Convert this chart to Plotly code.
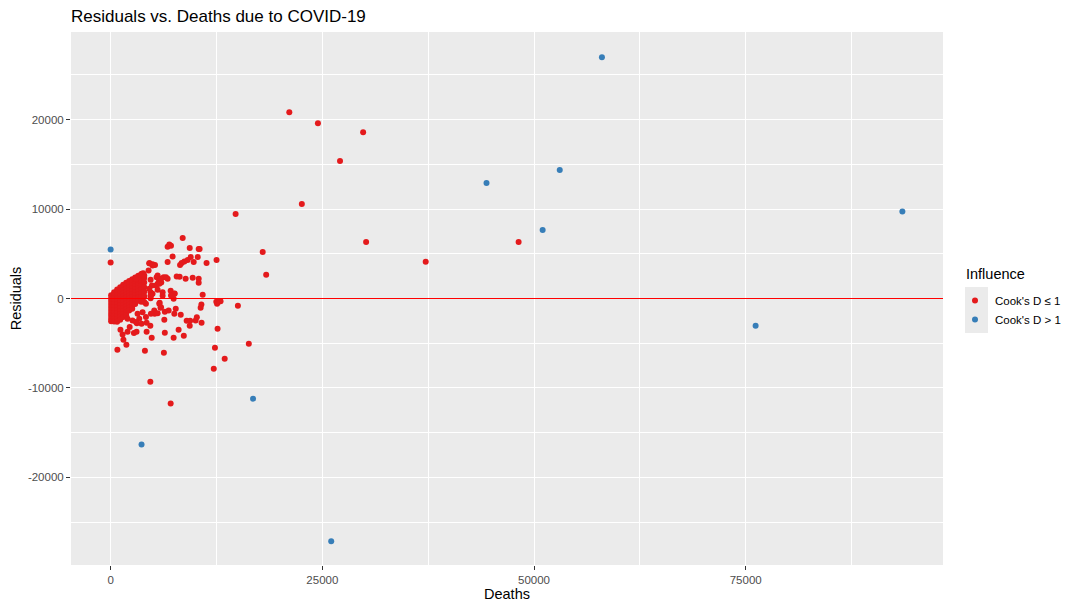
import plotly.graph_objects as go

# Cook's D > 1 (influential points): (deaths, residual)
high_pts = [
    (0, 5470), (58020, 26980), (53040, 14360), (44390, 12910), (51020, 7670),
    (93500, 9720), (76170, -3050), (16820, -11200), (3650, -16330), (26050, -27150),
]

# Cook's D <= 1, points far from the main cluster
far_pts = [
    (21100, 20840), (24480, 19610), (29820, 18600), (27090, 15370), (22580, 10570),
    (14760, 9450), (30170, 6330), (48180, 6330), (17960, 5210), (12510, 4320),
    (11330, 3980), (37210, 4100), (18370, 2650), (10510, 5550), (0, 4020),
    (15030, -815), (16320, -5060), (13470, -6730), (12180, -7850), (12320, -5500),
    (7090, -11750), (4690, -9300), (12630, -3380),
]

# Cook's D <= 1, scattered points round the cluster
spread_pts = [
    (8510, 6770), (6730, 5800), (7130, 5910), (6930, 6030), (9340, 5660),
    (10400, 5550), (7320, 4690), (9460, 4650), (10290, 4650), (9100, 4320),
    (8710, 4130), (8390, 3980), (8200, 3760), (9810, 4090), (6730, 4090),
    (4600, 3940), (4950, 3830), (5240, 3760), (4560, 3940), (4950, 3680),
    (4480, 3130), (3850, 2820), (3610, 2640), (3180, 2380), (2990, 2200),
    (5430, 2380), (6260, 2380), (6730, 2200), (4720, 2090), (5710, 2090),
    (5980, 1790), (5550, 1640), (5360, 1450), (8150, 2420), (8860, 2200),
    (9690, 2310), (10400, 2200), (10400, 1750), (7800, 2450), (6540, 2380),
    (3690, 2760), (3970, 2570), (5550, 2570), (5950, 2200), (5750, 1640),
    (5550, 970), (7090, 860), (7560, 560), (7440, -30), (7540, 520),
    (6140, 300), (4720, 700), (4720, 340), (4720, 30), (4880, 1450),
    (4560, 1080), (4950, 520), (4760, 340), (6140, 700), (7130, 340),
    (10870, 410), (12570, -590), (12680, -410), (12980, -300), (12480, -370),
    (10630, -1040), (10720, -670), (10740, -2720), (9340, -3050), (8980, -2490),
    (10040, -2460), (10180, -2090), (9390, -2490), (8640, -4170), (8030, -3500),
    (7440, -4390), (6400, -3830), (8280, -1820), (7690, -1150), (6400, -1490),
    (5890, -1040), (5790, -480), (5200, -1710), (4850, -4390), (4250, -3720),
    (4690, -3050), (4250, -2720), (4050, -5840), (6290, -6070), (800, -5730),
    (1860, -5170), (1510, -4610), (1410, -4020), (2750, -3870), (3060, -3720),
    (2000, -3720), (1160, -3500), (3100, -2760), (3650, -2830), (2000, -2270),
    (2250, -3200), (7520, -1710), (5750, -590), (5950, -970), (5150, -1340),
    (5550, -1640), (3770, -220), (4170, -590), (3770, -1530), (3180, -1710),
    (3380, -2270), (2580, -2460), (2990, -2640), (4170, -2080), (4760, -1710),
    (6340, -2380), (6850, -1340),
]

# Cook's D <= 1, dense cluster of small counts
core_pts = [
    (60, 370), (60, 40), (60, -290), (60, -620), (60, -950), (60, -1280),
    (60, -1610), (60, -1940), (60, -2270), (60, -2550),
    (410, 700), (410, 370), (410, 40), (410, -290), (410, -620), (410, -950),
    (410, -1280), (410, -1610), (410, -1940), (410, -2270), (410, -2580),
    (770, 1000), (770, 670), (770, 340), (770, 10), (770, -320), (770, -650),
    (770, -980), (770, -1310), (770, -1640), (770, -1970), (770, -2300), (770, -2600),
    (1130, 1250), (1130, 920), (1130, 590), (1130, 260), (1130, -70), (1130, -400),
    (1130, -730), (1130, -1060), (1130, -1390), (1130, -1720), (1130, -2050), (1130, -2380),
    (1480, 1550), (1480, 1220), (1480, 890), (1480, 560), (1480, 230), (1480, -100),
    (1480, -430), (1480, -760), (1480, -1090), (1480, -1420), (1480, -1750), (1480, -2080),
    (1840, 1750), (1840, 1420), (1840, 1090), (1840, 760), (1840, 430), (1840, 100),
    (1840, -230), (1840, -560), (1840, -890), (1840, -1220), (1840, -1550), (1840, -1880),
    (2190, 1950), (2190, 1620), (2190, 1290), (2190, 960), (2190, 630), (2190, 300),
    (2190, -30), (2190, -360), (2190, -690), (2190, -1020), (2190, -1350),
    (2550, 2150), (2550, 1820), (2550, 1490), (2550, 1160), (2550, 830), (2550, 500),
    (2550, 170), (2550, -160), (2550, -490), (2550, -820), (2550, -1150),
    (2900, 2350), (2900, 2020), (2900, 1690), (2900, 1360), (2900, 1030), (2900, 700),
    (2900, 370), (2900, 40), (2900, -290), (2900, -620),
    (3260, 2550), (3260, 2200), (3260, 1850), (3260, 1500), (3260, 1150), (3260, 800),
    (3260, 450), (3260, 100), (3260, -250),
    (3610, 2700), (3610, 2300), (3610, 1900), (3610, 1450), (3610, 1000), (3610, 600),
    (3610, 150), (3610, -350),
    (3970, 2300), (3970, 1800), (3970, 1250), (3970, 750), (3970, 250), (3970, -400),
]

x_ticks = [0, 25000, 50000, 75000]
x_labels = ["0", "25000", "50000", "75000"]
y_ticks = [-20000, -10000, 0, 10000, 20000]
y_labels = ["-20000", "-10000", "0", "10000", "20000"]

low_pts = core_pts + spread_pts + far_pts

FONT = "Liberation Sans, Arial, sans-serif"

# the page puts the figure 8px in from the top left corner
W, H = 1072, 602
L, T = 63, 24
PW, PH = 872, 533

fig = go.Figure()
fig.add_trace(go.Scatter(
    x=[p[0] for p in low_pts], y=[p[1] for p in low_pts],
    mode="markers", name="Cook's D \u2264 1",
    marker=dict(color="#E41A1C", size=6, line=dict(width=0)),
))
fig.add_trace(go.Scatter(
    x=[p[0] for p in high_pts], y=[p[1] for p in high_pts],
    mode="markers", name="Cook's D > 1",
    marker=dict(color="#377EB8", size=6, line=dict(width=0)),
))

fig.add_hline(y=0, line_color="#FF0000", line_width=1)

# grey legend key background, like ggplot
fig.add_shape(type="rect", xref="paper", yref="paper",
              x0=(965 - 71) / PW, x1=(988 - 71) / PW,
              y0=(565 - 333) / PH, y1=(565 - 287) / PH,
              fillcolor="#EBEBEB", line_width=0, layer="below")

# legend title drawn as text so the keys can sit under it like ggplot
fig.add_annotation(text="Influence", xref="paper", yref="paper",
                   x=(964 - 71) / PW, y=(565 - 274) / PH, xanchor="left", yanchor="middle",
                   showarrow=False, font=dict(size=14.5, family=FONT, color="black"))

axis_common = dict(
    showgrid=True, gridcolor="white", gridwidth=1.1,
    zeroline=False, showline=False,
    ticks="outside", ticklen=4, tickcolor="#333333", tickwidth=1,
    tickfont=dict(family=FONT, size=11.5, color="#4D4D4D"),
    automargin=False,
)

fig.update_layout(
    width=W, height=H,
    paper_bgcolor="white", plot_bgcolor="#EBEBEB",
    margin=dict(l=L, r=W - L - PW, t=T, b=H - T - PH),
    font=dict(family=FONT, color="black"),
    title=dict(text="Residuals vs. Deaths due to COVID-19", x=L / W, xanchor="left",
               y=1 - 8 / H, yanchor="middle", font=dict(size=17, family=FONT, color="black")),
    xaxis=dict(range=[-4680, 98300], tickvals=x_ticks, ticktext=x_labels,
               title=dict(text="Deaths", font=dict(size=14.5, family=FONT), standoff=4),
               minor=dict(dtick=12500, tick0=0, showgrid=True, gridcolor="white", gridwidth=0.5, ticks=""),
               **axis_common),
    yaxis=dict(range=[-29804, 29806], tickvals=y_ticks, ticktext=y_labels,
               title=dict(text="Residuals", font=dict(size=14.5, family=FONT), standoff=6),
               minor=dict(dtick=5000, tick0=0, showgrid=True, gridcolor="white", gridwidth=0.5, ticks=""),
               **axis_common),
    showlegend=True,
    legend=dict(x=(955 - 71) / PW, xanchor="left", y=(565 - 310) / PH, yanchor="middle",
                bgcolor="rgba(0,0,0,0)",
                font=dict(size=11.5, family=FONT, color="black")),
)

fig.write_html("out.html")
